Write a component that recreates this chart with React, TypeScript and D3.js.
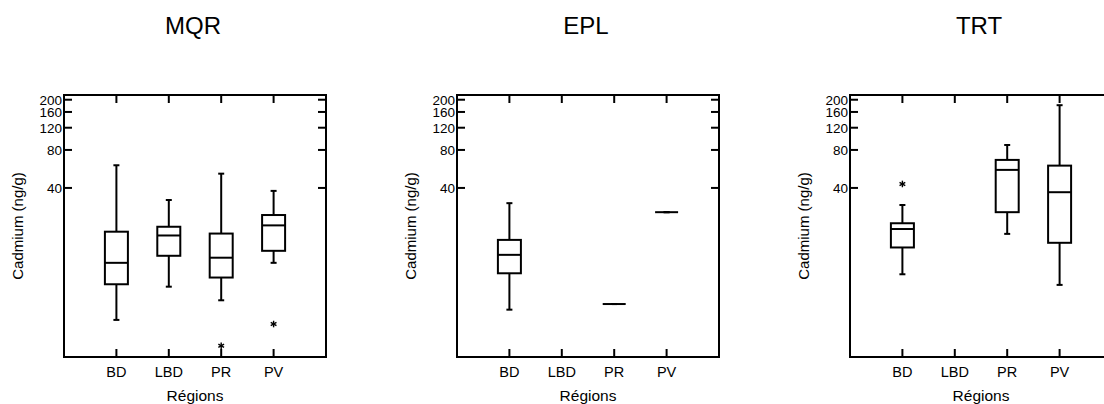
import React from "react";
import * as d3 from "d3";

const panelTitles = ["MQR", "EPL", "TRT"];
const regions = ["BD", "LBD", "PR", "PV"];
const yTicks = [40, 80, 120, 160, 200];

// [whiskerLow, q1, median, q3, whiskerHigh] per region (null = no data)
const mqrStats: (number[] | null)[] = [
  [3.6, 6.9, 10.2, 18.0, 60.5],
  [6.6, 11.6, 16.8, 19.7, 32.1],
  [5.15, 7.8, 11.2, 17.4, 51.9],
  [10.2, 12.7, 20.2, 24.4, 37.9],
];
const mqrOutliers: number[][] = [[], [], [2.25], [3.34]];

const eplStats: (number[] | null)[] = [
  [4.34, 8.43, 11.8, 15.5, 30.3],
  null,
  [4.81, 4.81, 4.81, 4.81, 4.81],
  [25.7, 25.7, 25.7, 25.7, 25.7],
];
const eplOutliers: number[][] = [[], [], [], []];

const trtStats: (number[] | null)[] = [
  [8.28, 13.5, 18.9, 21.0, 29.3],
  null,
  [17.3, 25.7, 55.6, 66.7, 87.6],
  [6.82, 14.7, 37.0, 60.1, 181],
];
const trtOutliers: number[][] = [[43.0], [], [], []];

const allStats = [mqrStats, eplStats, trtStats];
const allOutliers = [mqrOutliers, eplOutliers, trtOutliers];

const W = 1104;
const H = 404;
const panelLeft0 = 64;
const panelStep = 393;
const panelW = 262;
const top = 95;
const bottom = 357;
const font = "Liberation Sans, Arial, Helvetica, sans-serif";

function Star({ x, y }: { x: number; y: number }) {
  const r = 3.3;
  const lines = [0, 60, 120].map((a) => {
    const rad = ((a + 90) * Math.PI) / 180;
    return (
      <line
        key={a}
        x1={x - r * Math.cos(rad)}
        y1={y - r * Math.sin(rad)}
        x2={x + r * Math.cos(rad)}
        y2={y + r * Math.sin(rad)}
        stroke="#000"
        strokeWidth={1.4}
      />
    );
  });
  return <g>{lines}</g>;
}

function Panel({ idx }: { idx: number }) {
  const left = panelLeft0 + idx * panelStep;
  const right = left + panelW;
  const x = d3.scaleLinear().domain([0, 5]).range([left, right]);
  const y = d3.scaleLog().domain([1.83, 218]).range([bottom, top]);
  const stats = allStats[idx];
  const outliers = allOutliers[idx];
  const boxW = 23;
  const capW = 6;
  const tickLen = 8;
  const cx = (left + right) / 2;
  const cy = (top + bottom) / 2;
  return (
    <g>
      <text x={cx - 2} y={34} textAnchor="middle" fontFamily={font} fontSize={24}>
        {panelTitles[idx]}
      </text>
      {/* frame */}
      <rect x={left} y={top} width={panelW} height={bottom - top} fill="none" stroke="#000" strokeWidth={2} />
      {/* y ticks */}
      {yTicks.map((t) => (
        <g key={t}>
          <line x1={left} x2={left + tickLen} y1={y(t)} y2={y(t)} stroke="#000" strokeWidth={2} />
          <line x1={right} x2={right - tickLen} y1={y(t)} y2={y(t)} stroke="#000" strokeWidth={2} />
          <text x={left - 2} y={y(t) + 4.8} textAnchor="end" fontFamily={font} fontSize={13.5}>
            {t}
          </text>
        </g>
      ))}
      {/* x ticks */}
      {regions.map((r, i) => (
        <g key={r}>
          <line x1={x(i + 1)} x2={x(i + 1)} y1={top} y2={top + tickLen} stroke="#000" strokeWidth={2} />
          <line x1={x(i + 1)} x2={x(i + 1)} y1={bottom} y2={bottom - tickLen} stroke="#000" strokeWidth={2} />
          <text x={x(i + 1)} y={377} textAnchor="middle" fontFamily={font} fontSize={14.5}>
            {r}
          </text>
        </g>
      ))}
      <text x={cx} y={401} textAnchor="middle" fontFamily={font} fontSize={15.5}>
        Régions
      </text>
      <text
        transform={`translate(${left - 41},${cy}) rotate(-90)`}
        textAnchor="middle"
        fontFamily={font}
        fontSize={15}
      >
        Cadmium (ng/g)
      </text>
      {/* boxes */}
      {stats.map((s, i) => {
        if (!s) return null;
        const px = x(i + 1);
        const [lo, q1, med, q3, hi] = s;
        return (
          <g key={i}>
            <line x1={px} x2={px} y1={y(hi)} y2={y(q3)} stroke="#000" strokeWidth={2} />
            <line x1={px} x2={px} y1={y(q1)} y2={y(lo)} stroke="#000" strokeWidth={2} />
            <line x1={px - capW / 2} x2={px + capW / 2} y1={y(hi)} y2={y(hi)} stroke="#000" strokeWidth={2} />
            <line x1={px - capW / 2} x2={px + capW / 2} y1={y(lo)} y2={y(lo)} stroke="#000" strokeWidth={2} />
            <rect
              x={px - boxW / 2}
              y={y(q3)}
              width={boxW}
              height={Math.max(0, y(q1) - y(q3))}
              fill="#fff"
              stroke="#000"
              strokeWidth={q1 === q3 ? 3 : 2}
            />
            <line x1={px - boxW / 2} x2={px + boxW / 2} y1={y(med)} y2={y(med)} stroke="#000" strokeWidth={2} />
          </g>
        );
      })}
      {outliers.map((arr, i) =>
        arr.map((v, j) => <Star key={`${i}-${j}`} x={x(i + 1)} y={y(v)} />)
      )}
    </g>
  );
}

export default function App() {
  return (
    <svg width={W} height={H} style={{ position: "absolute", left: 0, top: 0 }}>
      <rect width={W} height={H} fill="#fff" />
      {panelTitles.map((_, i) => (
        <Panel key={i} idx={i} />
      ))}
    </svg>
  );
}
